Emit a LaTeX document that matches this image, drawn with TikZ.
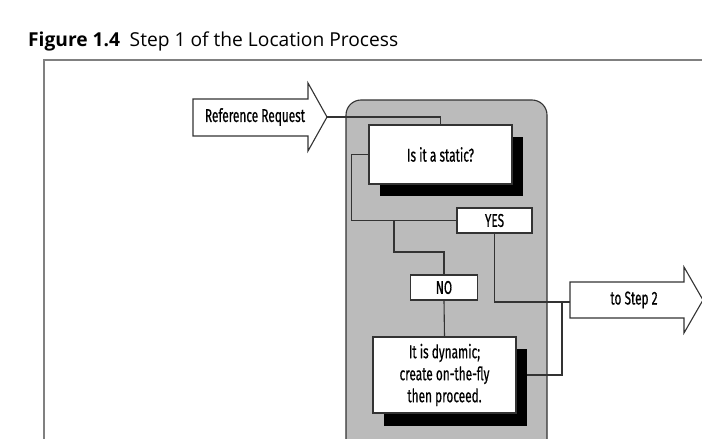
\documentclass[tikz,border=0pt]{standalone}
\usepackage{fontspec}
\setmainfont{Open Sans}
\newfontfamily\cond[FakeStretch=0.64, FakeBold=0.6]{Fira Sans}
\usetikzlibrary{shadows}
\pgfdeclarelayer{bg}
\pgfdeclarelayer{lines}
\pgfsetlayers{bg,lines,main}
\definecolor{panelgray}{HTML}{BBBBBB}
\definecolor{linecol}{HTML}{333333}
\begin{document}
\begin{tikzpicture}[x=1pt,y=-1pt,
  lbl/.style={font=\cond\fontsize{18.5}{19}\selectfont, align=center},
  box/.style={lbl, draw=linecol, line width=1.2pt, fill=white, inner sep=0pt},
  shbox/.style={box, drop shadow={shadow xshift=11pt, shadow yshift=-12pt, fill=black, opacity=1}},
  conn/.style={draw=linecol, line width=1.1pt},
  bigarrow/.style={draw=linecol, line width=1.1pt, fill=white, line join=miter}]
\useasboundingbox (0,0) rectangle (702,439);
% title
\node[anchor=base west, inner sep=0pt, font=\fontsize{19.2}{22}\selectfont] (title) at (28,46)
  {\textbf{Figure 1.4}\hspace{0.5em}Step 1 of the Location Process};
% frame
\draw[gray, line width=1.5pt] (44,445) -- (44,60) -- (705,60);
% panel
\begin{pgfonlayer}{bg}
\draw[fill=panelgray, draw=linecol, line width=1.1pt, rounded corners=15pt] (346,460) -- (346,100) -- (547,100) -- (547,460);
\end{pgfonlayer}
% reference request arrow
\draw[bigarrow] (193,99) -- (308,99) -- (308,83) -- (327,117) -- (308,151) -- (308,136) -- (193,136) -- cycle;
\coordinate (reftip) at (327,117);
\node[lbl] (reftext) at (255,117) {Reference Request};
% to step 2 arrow
\draw[bigarrow] (570,282) -- (684,282) -- (684,267) -- (703,300) -- (684,333) -- (684,318) -- (570,318) -- cycle;
\coordinate (s2in) at (570,302);
\node[lbl] (s2text) at (634,300) {to Step 2};
% boxes
\node[shbox, minimum width=143pt, minimum height=59pt] (static) at (440.5,154.5) {Is it a static?};
\node[box, minimum width=75pt, minimum height=25pt] (yes) at (494.5,220.5) {YES};
\node[box, minimum width=67pt, minimum height=25pt] (no) at (444,287.5) {NO};
\node[shbox, minimum width=143pt, minimum height=76pt, drop shadow={shadow xshift=11pt, shadow yshift=-13pt, fill=black, opacity=1}] (dyn) at (444.5,375)
  {It is dynamic;\\[3pt]create on-the-fly\\[3pt]then proceed.};
\coordinate (j1) at (394,220.5);
\coordinate (j3) at (562,302);
% connectors
\begin{pgfonlayer}{lines}
\draw[conn] (reftip) -| (static.north);
\draw[conn] (static.west) -- ++(-17,0) |- (yes.west);
\draw[conn] (j1) -- ++(0,31.5) -| (no.north);
\draw[conn] (no.south) -- (dyn.north);
\draw[conn] (yes.south) |- (s2in);
\draw[conn] (dyn.east) -| (j3);
\end{pgfonlayer}
\end{tikzpicture}
\end{document}
